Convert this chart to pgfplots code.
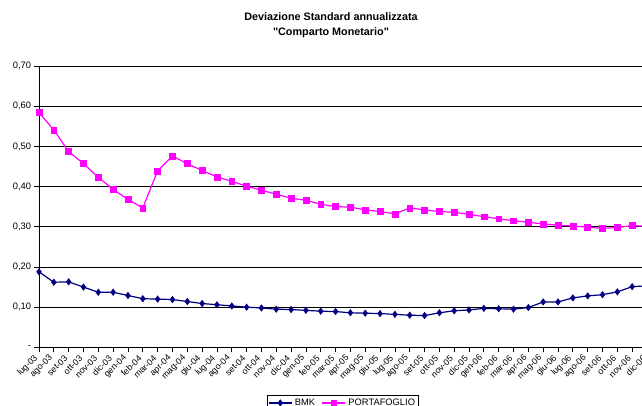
\documentclass[border=0pt]{standalone}
\usepackage{pgfplots}
\pgfplotsset{compat=1.18}
\usepackage{fontspec}
\setmainfont{Liberation Sans}
\newfontfamily\plainsans{Liberation Sans}[Ligatures=TeXOff]
\definecolor{bmk}{RGB}{0,0,128}
\definecolor{port}{RGB}{255,0,255}

\begin{document}
\begin{tikzpicture}[font=\fontsize{7}{8.4}\selectfont]
\begin{axis}[
    at={(0,0)}, anchor=south west,
    scale only axis,
    width=456pt, height=211pt,
    xmin=0, xmax=41, ymin=0, ymax=0.7,
    clip=false,
    axis x line*=bottom, axis y line*=left,
    axis line style={black, line width=0.75pt},
    xtick={0,...,41},
    xticklabels={lug-03,ago-03,set-03,ott-03,nov-03,dic-03,gen-04,feb-04,mar-04,apr-04,mag-04,giu-04,
                 lug-04,ago-04,set-04,ott-04,nov-04,dic-04,gen-05,feb-05,mar-05,apr-05,mag-05,giu-05,
                 lug-05,ago-05,set-05,ott-05,nov-05,dic-05,gen-06,feb-06,mar-06,apr-06,mag-06,giu-06,
                 lug-06,ago-06,set-06,ott-06,nov-06,dic-06},
    ytick={0,0.1,0.2,0.3,0.4,0.5,0.6,0.7},
    yticklabels={-,{0,10},{0,20},{0,30},{0,40},{0,50},{0,60},{0,70}},
    tick align=outside,
    major tick length=3.75pt,
    tick style={black, line width=0.6pt},
    tick label style={font=\fontsize{7}{8.4}\selectfont},
    xticklabel style={yshift=-3pt, xshift=-1.5pt, rotate=45, anchor=east, inner sep=0.5pt,
                      font=\fontsize{6.6}{8}\selectfont},
    yticklabel style={inner sep=1pt, xshift=-1pt},
    ymajorgrids,
    grid style={black, line width=0.6pt},
    legend style={at={(0.5,-0.168)}, anchor=north, legend columns=2,
                  draw=black, line width=0.6pt, inner sep=0.8pt,
                  font=\fontsize{7}{8}\selectfont,
                  /tikz/every even column/.append style={column sep=3pt}},
    legend image post style={line width=0.9pt},
]

\addplot[bmk, line width=0.9pt, mark=diamond*, mark size=2.4pt,
         mark options={solid, fill=bmk, line width=0.4pt}] coordinates {
 (0,0.188) (1,0.162) (2,0.163) (3,0.150) (4,0.137) (5,0.137) (6,0.129) (7,0.121)
 (8,0.120) (9,0.119) (10,0.114) (11,0.109) (12,0.106) (13,0.103) (14,0.100) (15,0.098)
 (16,0.095) (17,0.094) (18,0.092) (19,0.090) (20,0.089) (21,0.086) (22,0.085) (23,0.084)
 (24,0.082) (25,0.080) (26,0.079) (27,0.086) (28,0.091) (29,0.093) (30,0.097) (31,0.096)
 (32,0.095) (33,0.099) (34,0.113) (35,0.113) (36,0.123) (37,0.128) (38,0.131) (39,0.138)
 (40,0.151) (41,0.153)
};
\addlegendentry{BMK}

\addplot[port, line width=0.9pt, mark=square*, mark size=2.2pt,
         mark options={solid, fill=port, line width=0.4pt}] coordinates {
 (0,0.584) (1,0.541) (2,0.487) (3,0.457) (4,0.423) (5,0.393) (6,0.368) (7,0.347)
 (8,0.439) (9,0.476) (10,0.457) (11,0.440) (12,0.424) (13,0.413) (14,0.401) (15,0.391)
 (16,0.381) (17,0.371) (18,0.366) (19,0.356) (20,0.350) (21,0.349) (22,0.342) (23,0.338)
 (24,0.332) (25,0.347) (26,0.342) (27,0.338) (28,0.336) (29,0.331) (30,0.325) (31,0.320)
 (32,0.315) (33,0.311) (34,0.307) (35,0.304) (36,0.302) (37,0.299) (38,0.296) (39,0.298)
 (40,0.303) (41,0.301)
};
\addlegendentry{PORTAFOGLIO}
\end{axis}

\node[font=\plainsans\bfseries\fontsize{8.1}{11}\selectfont, align=center] at (219pt,241.5pt)
  {Deviazione Standard annualizzata\\"Comparto Monetario"};

\pgfresetboundingbox
\useasboundingbox (-29.25pt,-43.3pt) rectangle (452.25pt,260.5pt);
\end{tikzpicture}
\end{document}
